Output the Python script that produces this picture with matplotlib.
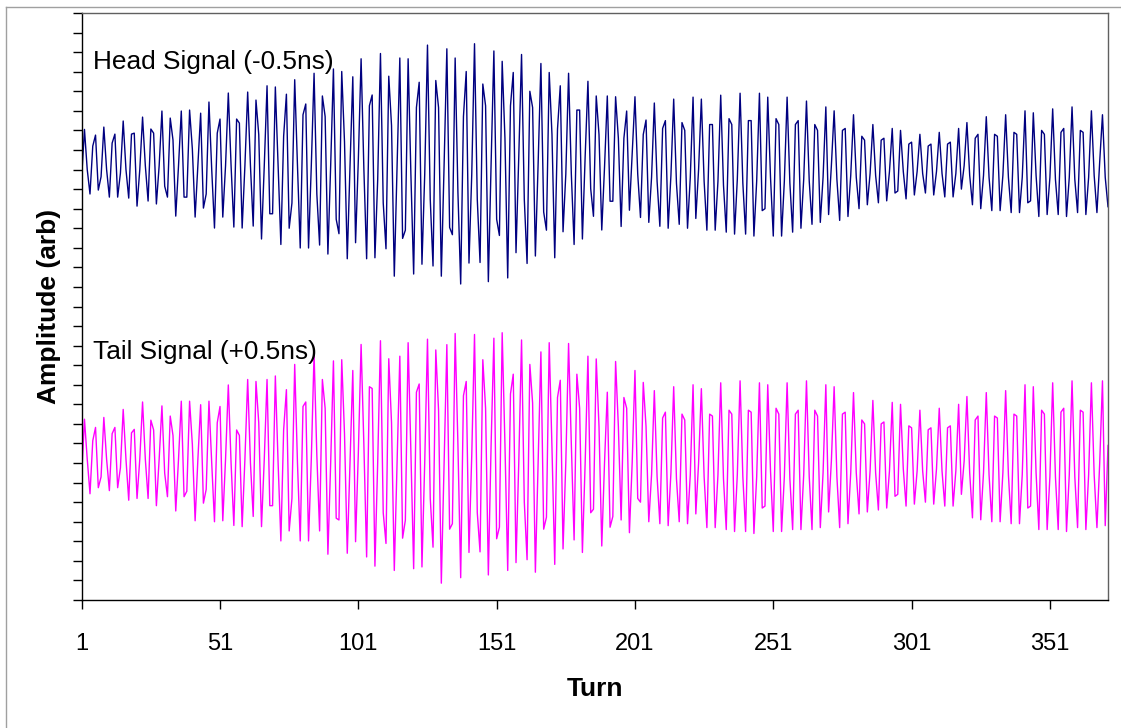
import numpy as np
import matplotlib
matplotlib.use("Agg")
import matplotlib.pyplot as plt
from matplotlib.lines import Line2D

# Amplitude samples (arb units) per turn
head = [216.3, 240.5, 220, 207.5, 232, 237.6, 209.5, 216.3, 241.7, 220,
        205.9, 233.5, 238.1, 205.9, 218.2, 244.8, 220, 205.4, 238.1, 238.6,
        201.3, 220, 246.8, 222, 203.9, 240.7, 238.6, 202.4, 222, 249.9,
        211.5, 205.9, 246.3, 235.1, 196.2, 222, 249.9, 205.9, 205.9, 250.4,
        230.5, 195.7, 222, 248.8, 200.3, 207.5, 254.5, 220, 190.1, 238.6,
        245.8, 195.7, 222, 259.1, 222, 190.6, 245.8, 243.7, 190.1, 222,
        259.6, 222, 191.1, 255.5, 237.9, 184.5, 222, 262.8, 197.4, 197.4,
        262.2, 222, 181.7, 237, 258.5, 190, 202.9, 265.9, 222, 179.9,
        248, 253.5, 179.9, 222, 269.2, 207.5, 181.4, 257.6, 247.1, 176.8,
        222, 271.4, 194.6, 187.2, 270.1, 234.2, 174.4, 222, 267.4, 182.6,
        225, 276.6, 220.4, 174.4, 252.6, 258.1, 174.9, 214.9, 279.3, 202.9,
        179.5, 267.7, 242.5, 165.5, 222, 277, 184.8, 189, 276.6, 217.6,
        166.6, 251.7, 264.6, 171.6, 217.6, 283.6, 204.7, 170.7, 265.5, 251.7,
        165.5, 222, 281.7, 190.4, 186.7, 277, 208.4, 161.5, 247.1, 270.1,
        172.2, 217.6, 284.3, 204.7, 172.5, 263.7, 252.6, 162.7, 223.2, 280.6,
        194.6, 186.3, 275.3, 236, 164.6, 252.6, 269.6, 177.5, 226.8, 278.8,
        204.7, 172, 260, 251.7, 175.8, 223.2, 274.2, 198.3, 189, 269.6,
        237.9, 174.9, 240.7, 262.8, 188.2, 217.6, 269.2, 217.6, 181.7, 250.4,
        250.4, 184.5, 226.8, 265.1, 210.2, 196.1, 257.6, 237.9, 189.1, 221.3,
        257.6, 203.8, 203.8, 257.2, 236, 190.9, 236, 249.9, 199.2, 227.8,
        257.2, 217.6, 195.5, 237.9, 245.3,
        193, 216, 254, 214, 191, 241, 245, 190, 217, 256,
        213, 192, 244, 240, 190, 216, 257, 195, 220, 256,
        214, 189, 243, 243, 189,
        214, 258, 212, 188, 246, 243, 187, 215, 259, 213,
        187, 245, 245, 186, 214, 259, 199, 200, 257, 216,
        186, 246, 243, 186, 214, 257, 213, 188, 243, 245,
        190, 215, 255, 214, 192, 243, 240, 193, 216, 252,
        197, 222, 250, 215, 194, 240, 241, 196, 217, 248,
        216, 200, 237, 235, 202, 218, 243, 217, 203, 235,
        236, 204, 219, 241, 208, 209, 240, 219, 205, 233,
        234, 207, 219, 238, 218, 208, 232, 233, 207, 219,
        239, 218, 206, 233, 234, 206, 218, 241, 210, 222,
        244, 217, 202, 236, 238, 200, 217, 247, 216, 199,
        238, 237, 199, 217, 248, 216, 198, 239, 238, 198,
        216, 250, 203, 204, 249, 217, 196, 240, 238, 197,
        216, 251, 215, 197, 239, 241, 196, 216, 252, 215,
        198, 240, 239, 197, 216, 250, 217, 198, 224, 248,
        216, 201]

tail = [63.9, 92.4, 72, 54.3, 81.4, 88.2, 57.4, 62.9, 93.3, 72,
        55.9, 85.0, 88.2, 57.4, 67.6, 97.4, 72, 51, 85.4, 87.2,
        51.9, 72, 101.2, 72, 51.9, 91.9, 86.9, 48.2, 72, 99.2,
        64.8, 52.8, 94, 84.1, 45.5, 72, 101.6, 52.8, 55.6, 101.6,
        79.5, 40.5, 72, 99.8, 49.5, 56.5, 101.6, 70, 40, 90.6,
        98.9, 40.5, 72, 109.9, 70, 38.1, 86.9, 84.1, 37.5, 72,
        112.7, 70, 42.7, 111.7, 90.6, 37.5, 72, 112.7, 48.2, 48.2,
        114.5, 70, 30.2, 86.9, 107.5, 35.3, 51.9, 120.4, 70, 30.2,
        98.9, 101.2, 30.2, 72, 125.9, 74, 35.3, 112.7, 98, 23.4,
        70, 122.2, 41.8, 40.9, 122.8, 85, 23.9, 70, 117.3, 29.8,
        75, 130.6, 79.5, 22, 109, 108.1, 17.3, 70.3, 132.5, 44.6,
        28.9, 123.3, 90.6, 15.1, 70, 124.6, 31.6, 40.8, 131.5, 75.8,
        16, 106.2, 110.4, 16.9, 70.3, 133.3, 51.9, 27, 127.8, 97,
        8.6, 70, 130.5, 36.2, 39, 136.2, 79.5, 11.4, 104.4, 111.7,
        24.3, 74, 135.7, 44.6, 24.6, 122.8, 98, 12.8, 79.5, 133.8,
        31.3, 37.2, 136.6, 79.5, 15.1, 105.3, 115.4, 19.1, 70.3, 132.9,
        50, 20.6, 120.4, 100.7, 14.2, 70.3, 126.8, 36.2, 42.3, 131.5,
        77.7, 18.2, 103.5, 112.3, 26.1, 70.3, 131.1, 79.5, 30.7, 115.4,
        98, 24.3, 70.3, 124.6, 44.6, 46.4, 123.2, 88.7, 27.6, 70.3,
        106.2, 37.2, 42.7, 121.9, 88.7, 40.9, 103.5, 98, 34.4, 70.3,
        117.3, 51.9, 50, 111.2, 88.7,
        40, 64, 107, 63, 39, 93, 96, 38, 65, 109,
        62, 40, 95, 92, 39, 64, 110, 44, 70, 108,
        63, 37, 95, 94, 37,
        64, 111, 62, 36, 97, 95, 35, 64, 112, 63,
        35, 97, 96, 34, 63, 111, 47, 48, 110, 66,
        35, 98, 95, 35, 63, 111, 62, 36, 95, 97,
        36, 64, 112, 63, 36, 97, 94, 37, 65, 110,
        45, 71, 109, 63, 37, 95, 96, 39, 65, 106,
        65, 44, 92, 90, 45, 66, 102, 65, 46, 90,
        91, 47, 66, 101, 53, 54, 100, 67, 48, 89,
        88, 49, 66, 97, 66, 50, 87, 88, 49, 67,
        98, 66, 48, 88, 89, 48, 66, 100, 54, 71,
        104, 65, 42, 92, 94, 41, 65, 106, 64, 40,
        94, 93, 40, 65, 107, 64, 39, 95, 94, 39,
        64, 110, 47, 48, 109, 65, 36, 97, 95, 36,
        63, 111, 63, 36, 96, 98, 35, 64, 112, 63,
        37, 97, 96, 36, 64, 111, 64, 37, 70, 112,
        38, 79]

n_turns = 372
xtick_labels = [1, 51, 101, 151, 201, 251, 301, 351]

plt.rcParams['font.family'] = ['Liberation Sans', 'DejaVu Sans']

W, H = 1121, 728
fig = plt.figure(figsize=(W / 100, H / 100), dpi=100)
fig.patch.set_facecolor('white')

# outer chart frame (top and left edges visible in the reference)
fig.add_artist(Line2D([6 / W, 1.0], [1 - 7 / H, 1 - 7 / H], transform=fig.transFigure,
                      color='#a0a0a0', linewidth=1.0))
fig.add_artist(Line2D([6 / W, 6 / W], [0, 1 - 7 / H], transform=fig.transFigure,
                      color='#a0a0a0', linewidth=1.0))

ax = fig.add_axes([81.7 / W, 1 - 600 / H, (1108 - 81.7) / W, (600 - 13) / H])

x_head = np.arange(1, len(head) + 1)
x_tail = np.arange(1, len(tail) + 1)
ax.plot(x_head, head, color='#000080', linewidth=1.0)
ax.plot(x_tail, tail, color='#FF00FF', linewidth=1.0)

ax.set_xlim(1, n_turns)
ax.set_ylim(0, 300)
ax.set_xticks(xtick_labels)
ax.set_xticklabels([str(v) for v in xtick_labels], fontsize=17)
ax.set_yticks(np.arange(0, 301, 10))
ax.set_yticklabels([])

ax.tick_params(axis='x', direction='out', length=6.5, width=1.0, pad=17, colors='black')
ax.tick_params(axis='y', direction='out', length=6.5, width=1.0, colors='black')
for s in ax.spines.values():
    s.set_color('#606060')
    s.set_linewidth(1.0)
ax.spines['left'].set_color('black')
ax.spines['bottom'].set_color('black')

ax.set_xlabel('Turn', fontsize=19, fontweight='bold', labelpad=16)
ax.set_ylabel('Amplitude (arb)', fontsize=19, fontweight='bold', labelpad=5)

fig.text(93 / W, 1 - 62 / H, 'Head Signal (-0.5ns)', fontsize=18.9, va='center', ha='left')
fig.text(93 / W, 1 - 352 / H, 'Tail Signal (+0.5ns)', fontsize=18.9, va='center', ha='left')

fig.savefig('out.png', dpi=100, facecolor='white')
